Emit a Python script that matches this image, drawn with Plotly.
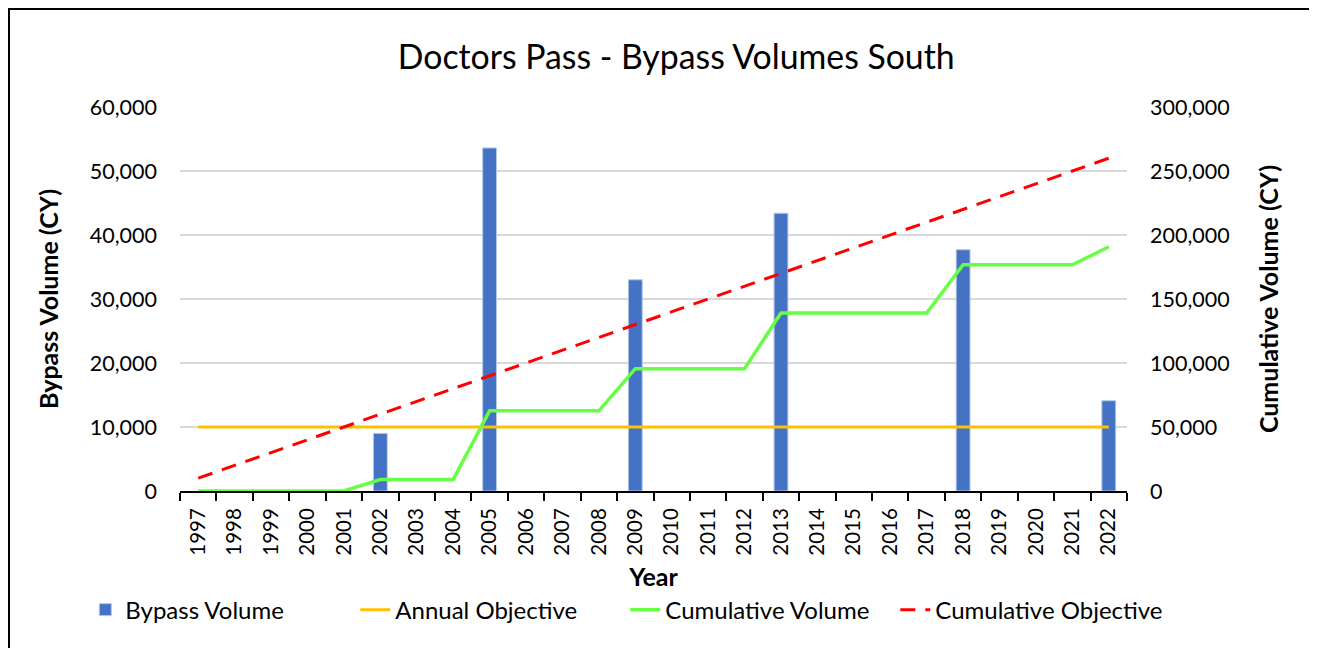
import plotly.graph_objects as go

# --- data ---
years = ["1997", "1998", "1999", "2000", "2001", "2002", "2003", "2004", "2005",
         "2006", "2007", "2008", "2009", "2010", "2011", "2012", "2013", "2014",
         "2015", "2016", "2017", "2018", "2019", "2020", "2021", "2022"]
bypass_volume = [None, None, None, None, None, 9000, None, None, 53600,
                 None, None, None, 33000, None, None, None, 43400, None,
                 None, None, None, 37700, None, None, None, 14100]
annual_objective = [10000] * 26
cumulative_volume = [0, 0, 0, 0, 0, 9000, 9000, 9000, 62600,
                     62600, 62600, 62600, 95600, 95600, 95600, 95600, 139000, 139000,
                     139000, 139000, 139000, 176700, 176700, 176700, 176700, 190800]
cumulative_objective = [10000, 20000, 30000, 40000, 50000, 60000, 70000, 80000, 90000,
                        100000, 110000, 120000, 130000, 140000, 150000, 160000, 170000, 180000,
                        190000, 200000, 210000, 220000, 230000, 240000, 250000, 260000]

FONT = "Lato, 'Open Sans', sans-serif"

fig = go.Figure()

fig.add_trace(go.Bar(
    x=years, y=bypass_volume, name="Bypass Volume",
    marker=dict(color="#4472C4", line=dict(color="#B4C7E7", width=1)),
))
fig.add_trace(go.Scatter(
    x=years, y=annual_objective, name="Annual Objective", mode="lines",
    line=dict(color="#FFC000", width=3),
))
fig.add_trace(go.Scatter(
    x=years, y=cumulative_volume, name="Cumulative Volume", mode="lines",
    line=dict(color="#66FF44", width=3.5), yaxis="y2",
))
fig.add_trace(go.Scatter(
    x=years, y=cumulative_objective, name="Cumulative Objective", mode="lines",
    line=dict(color="#FF0000", width=3, dash="15px,10px"), yaxis="y2",
))

# plot area sits at l=172, t=99 inside the figure (page adds 8px body margin)
PW, PH = 947, 384
L, T = 172, 99
# outer border of the chart, in figure pixels -> paper coords
bx0, bx1, by0, by1 = 1, 1303, 1, 660
fig.add_shape(type="rect", xref="paper", yref="paper",
              x0=(bx0 - L) / PW, x1=(bx1 - L) / PW,
              y0=(T + PH - by1) / PH, y1=(T + PH - by0) / PH,
              line=dict(color="black", width=2), layer="above")

fig.update_layout(
    width=1317, height=648,
    margin=dict(l=L, r=1317 - L - PW, t=T, b=648 - T - PH),
    paper_bgcolor="white", plot_bgcolor="white",
    font=dict(family=FONT, size=20, color="black"),
    title=dict(text="Doctors Pass - Bypass Volumes South", font=dict(size=33.8),
               xref="paper", x=0.524, xanchor="center", y=1 - 49 / 648, yanchor="middle"),
    bargap=0.62,
    showlegend=True,
    legend=dict(orientation="h", x=-0.1, xanchor="left",
                y=-0.31, yanchor="middle", entrywidth=225, entrywidthmode="pixels",
                font=dict(size=24), traceorder="normal"),
    xaxis=dict(
        type="category", range=[-0.5, 25.5],
        tickangle=-90, tickson="boundaries", ticks="outside", ticklen=8,
        tickcolor="black", tickwidth=2, showline=True, linecolor="black", linewidth=2,
        showgrid=False, tickfont=dict(size=20.5), ticklabelstandoff=7,
        title=dict(text="<b>Year</b>", font=dict(size=25), standoff=14),
    ),
    yaxis=dict(
        range=[0, 60000], dtick=10000, tickformat=",",
        showgrid=True, gridcolor="#D9D9D9", gridwidth=1.5, zeroline=False,
        ticks="", ticklabelstandoff=22, tickfont=dict(size=21.5),
        title=dict(text="<b>Bypass Volume (CY)</b>", font=dict(size=25), standoff=24),
    ),
    yaxis2=dict(
        range=[0, 300000], dtick=50000, tickformat=",", overlaying="y", side="right",
        showgrid=False, zeroline=False, ticks="", ticklabelstandoff=22,
        tickfont=dict(size=21.5),
        title=dict(text="<b>Cumulative Volume (CY)</b>", font=dict(size=25), standoff=31),
    ),
)

fig.write_html("out.html")
